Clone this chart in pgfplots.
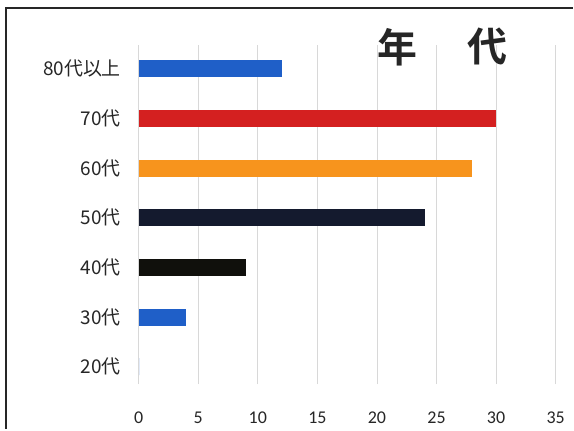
\documentclass[border=0pt]{standalone}
\usepackage{pgfplots}
\pgfplotsset{compat=1.18}
\usepackage{fontspec}
\setmainfont{Carlito}
\newfontfamily\cjk{Noto Sans CJK JP}
\newfontfamily\cjkbold{Noto Sans CJK JP Bold}
\definecolor{cblue}{HTML}{1F5FC8}
\definecolor{cred}{HTML}{D42020}
\definecolor{corange}{HTML}{F7941D}
\definecolor{cnavy}{HTML}{141A2E}
\definecolor{cblack}{HTML}{10100C}
\definecolor{cgrid}{HTML}{D8D8D8}
\begin{document}
\begin{tikzpicture}
\fill[white] (0,0) rectangle (574bp,430bp);
\draw[line width=2.8bp,black!85] (6bp,0) -- (6bp,422bp) -- (574bp,422bp);
\begin{axis}[
  at={(139bp,45bp)}, anchor=south west,
  scale only axis, width=418bp, height=340bp,
  xmin=0, xmax=35, ymin=-0.35, ymax=6.48,
  xbar, bar width=17bp, bar shift=0pt,
  axis line style={draw=none},
  major tick style={draw=none},
  xtick={0,5,...,35},
  xmajorgrids, grid style={cgrid, line width=0.8bp},
  ytick={0,1,2,3,4,5,6},
  yticklabels={20代,30代,40代,50代,60代,70代,80代以上},
  yticklabel style={font=\cjk\fontsize{19bp}{22bp}\selectfont, text=black!85, xshift=-10bp},
  xticklabel style={font=\fontsize{18bp}{21bp}\selectfont, text=black!85, yshift=-24bp},
  /pgf/number format/assume math mode=true,
  clip=false,
]
\addplot[fill=cblue, draw=none] coordinates {(12,6)};
\addplot[fill=cred, draw=none] coordinates {(30,5)};
\addplot[fill=corange, draw=none] coordinates {(28,4)};
\addplot[fill=cnavy, draw=none] coordinates {(24,3)};
\addplot[fill=cblack, draw=none] coordinates {(9,2)};
\addplot[fill=cblue, draw=none] coordinates {(4,1)};
\addplot[fill=cblue, draw=none] coordinates {(0,0)};
\end{axis}
\node[font=\cjkbold\fontsize{40bp}{43bp}\selectfont, text=black!85] at (398bp,383bp) {年};
\node[font=\cjkbold\fontsize{40bp}{43bp}\selectfont, text=black!85] at (489bp,383bp) {代};
\end{tikzpicture}
\end{document}
